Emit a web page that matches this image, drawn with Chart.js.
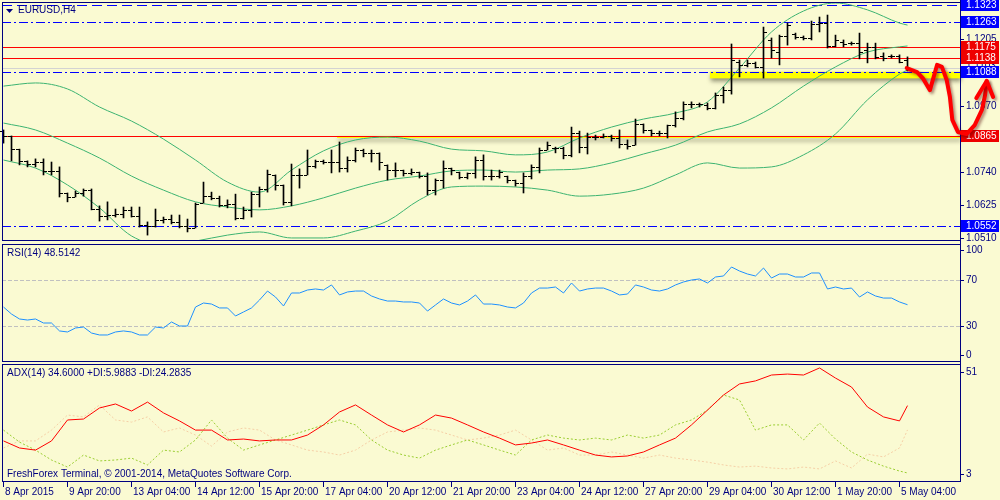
<!DOCTYPE html>
<html>
<head>
<meta charset="utf-8">
<title>EURUSD,H4</title>
<script src="https://cdn.jsdelivr.net/npm/chart.js@4.4.1/dist/chart.umd.min.js"></script>
<style>
html, body { margin: 0; padding: 0; background: #fafad2; }
#wrap { position: relative; width: 1000px; height: 500px; background: #fafad2; overflow: hidden; }
#wrap canvas { position: absolute; left: 0; }
</style>
</head>
<body>
<div id="wrap">
  <canvas id="priceChart" width="1000" height="243" style="top:0"></canvas>
  <canvas id="rsiChart" width="1000" height="121" style="top:243px"></canvas>
  <canvas id="adxChart" width="1000" height="137" style="top:363px"></canvas>
</div>
<script>
// ---- data (EURUSD H4, 8 Apr - 5 May 2015) ----
const barOpen = [1.0883,1.0866,1.0820,1.0779,1.0768,1.0775,1.0744,1.0744,1.0667,1.0653,
  1.0667,1.0677,1.0611,1.0587,1.0590,1.0594,1.0608,1.0587,1.0555,1.0552,
  1.0573,1.0576,1.0566,1.0552,1.0545,1.0632,1.0656,1.0650,1.0625,1.0629,
  1.0580,1.0608,1.0663,1.0681,1.0730,1.0695,1.0636,1.0730,1.0730,1.0761,
  1.0779,1.0775,1.0775,1.0754,1.0782,1.0817,1.0807,1.0807,1.0765,1.0747,
  1.0747,1.0737,1.0740,1.0726,1.0677,1.0712,1.0754,1.0740,1.0723,1.0737,
  1.0782,1.0726,1.0726,1.0726,1.0712,1.0702,1.0726,1.0758,1.0817,1.0824,
  1.0824,1.0800,1.0876,1.0827,1.0862,1.0862,1.0866,1.0859,1.0838,1.0834,
  1.0908,1.0887,1.0876,1.0876,1.0904,1.0929,1.0978,1.0978,1.0974,1.0964,
  1.1009,1.1026,1.1124,1.1114,1.1121,1.1107,1.1201,1.1159,1.1215,1.1222,
  1.1211,1.1208,1.1257,1.1260,1.1180,1.1194,1.1190,1.1190,1.1166,1.1177,
  1.1145,1.1145,1.1145,1.1131];
const barHigh = [1.0887,1.0866,1.0820,1.0779,1.0786,1.0786,1.0775,1.0758,1.0667,1.0674,
  1.0681,1.0681,1.0622,1.0636,1.0611,1.0618,1.0618,1.0618,1.0566,1.0611,
  1.0583,1.0590,1.0590,1.0576,1.0632,1.0705,1.0670,1.0656,1.0643,1.0663,
  1.0618,1.0670,1.0688,1.0747,1.0730,1.0695,1.0768,1.0751,1.0817,1.0782,
  1.0782,1.0817,1.0845,1.0793,1.0824,1.0820,1.0817,1.0807,1.0765,1.0772,
  1.0747,1.0751,1.0740,1.0737,1.0716,1.0779,1.0754,1.0740,1.0737,1.0793,
  1.0800,1.0747,1.0747,1.0726,1.0712,1.0737,1.0765,1.0824,1.0845,1.0827,
  1.0827,1.0897,1.0883,1.0876,1.0869,1.0873,1.0869,1.0887,1.0852,1.0925,
  1.0908,1.0887,1.0883,1.0904,1.0950,1.0985,1.0985,1.0981,1.0981,1.1016,
  1.1037,1.1187,1.1131,1.1131,1.1124,1.1246,1.1208,1.1218,1.1260,1.1225,
  1.1215,1.1267,1.1281,1.1288,1.1218,1.1201,1.1194,1.1225,1.1190,1.1190,
  1.1156,1.1149,1.1149,1.1142];
const barLow = [1.0841,1.0779,1.0765,1.0758,1.0758,1.0730,1.0730,1.0653,1.0636,1.0653,
  1.0656,1.0608,1.0569,1.0573,1.0583,1.0580,1.0583,1.0548,1.0520,1.0548,
  1.0562,1.0559,1.0545,1.0531,1.0545,1.0632,1.0643,1.0618,1.0615,1.0573,
  1.0576,1.0583,1.0618,1.0670,1.0677,1.0625,1.0622,1.0684,1.0730,1.0754,
  1.0768,1.0737,1.0740,1.0740,1.0775,1.0793,1.0775,1.0747,1.0712,1.0723,
  1.0726,1.0730,1.0719,1.0660,1.0660,1.0684,1.0730,1.0716,1.0716,1.0719,
  1.0712,1.0712,1.0719,1.0702,1.0691,1.0667,1.0716,1.0737,1.0817,1.0807,
  1.0786,1.0793,1.0807,1.0803,1.0852,1.0859,1.0848,1.0824,1.0820,1.0834,
  1.0876,1.0866,1.0866,1.0859,1.0897,1.0922,1.0964,1.0967,1.0957,1.0960,
  1.0981,1.1012,1.1072,1.1107,1.1103,1.1068,1.1138,1.1114,1.1183,1.1204,
  1.1201,1.1201,1.1229,1.1173,1.1177,1.1177,1.1183,1.1135,1.1121,1.1135,
  1.1128,1.1138,1.1121,1.1093];
const barClose = [1.0866,1.0820,1.0779,1.0768,1.0775,1.0744,1.0744,1.0667,1.0653,1.0667,
  1.0677,1.0611,1.0587,1.0590,1.0594,1.0608,1.0587,1.0555,1.0552,1.0573,
  1.0576,1.0566,1.0552,1.0545,1.0629,1.0656,1.0650,1.0625,1.0629,1.0580,
  1.0608,1.0663,1.0681,1.0733,1.0695,1.0636,1.0730,1.0730,1.0761,1.0779,
  1.0775,1.0775,1.0754,1.0782,1.0817,1.0807,1.0807,1.0775,1.0747,1.0747,
  1.0737,1.0740,1.0726,1.0677,1.0712,1.0754,1.0747,1.0723,1.0737,1.0782,
  1.0726,1.0726,1.0740,1.0712,1.0702,1.0726,1.0758,1.0817,1.0834,1.0824,
  1.0800,1.0876,1.0827,1.0862,1.0862,1.0866,1.0859,1.0838,1.0831,1.0908,
  1.0887,1.0876,1.0876,1.0904,1.0929,1.0978,1.0978,1.0978,1.0964,1.1009,
  1.1026,1.1131,1.1114,1.1121,1.1107,1.1229,1.1166,1.1215,1.1253,1.1211,
  1.1208,1.1257,1.1260,1.1180,1.1201,1.1187,1.1190,1.1159,1.1177,1.1142,
  1.1138,1.1145,1.1124,1.1103];

// Bollinger bands, read every 4th bar
const bandIdx = [0,4,8,12,16,20,24,28,32,36,40,44,48,52,56,60,64,68,72,76,80,84,88,92,96,100,104,108,112,113];
const bandUpper = [1.1040,1.1051,1.1030,1.0967,1.0918,1.0855,1.0782,1.0705,1.0670,1.0747,
  1.0814,1.0852,1.0862,1.0848,1.0820,1.0814,1.0800,1.0810,1.0859,1.0897,
  1.0925,1.0946,1.0985,1.1103,1.1229,1.1302,1.1330,1.1306,1.1260,1.1253];
const bandMiddle = [1.0911,1.0887,1.0841,1.0789,1.0726,1.0677,1.0636,1.0618,1.0608,1.0622,
  1.0650,1.0684,1.0712,1.0726,1.0744,1.0747,1.0740,1.0747,1.0751,1.0772,
  1.0803,1.0834,1.0880,1.0908,1.0964,1.1040,1.1107,1.1159,1.1177,1.1180];
const bandLower = [1.0782,1.0754,1.0695,1.0615,1.0517,1.0485,1.0499,1.0520,1.0531,1.0510,
  1.0510,1.0534,1.0569,1.0643,1.0688,1.0691,1.0688,1.0677,1.0656,1.0663,
  1.0684,1.0730,1.0772,1.0754,1.0758,1.0800,1.0873,1.0992,1.1082,1.1096];

const rsiValues = [46.5,40.4,36.1,35.2,36.1,32.6,32.6,25.7,24.8,28.3,
  29.1,23.9,22.2,22.2,24.8,25.7,24.8,22.2,22.2,29.1,
  28.3,33.5,30.0,30.0,46.5,50.0,49.1,45.7,45.7,38.7,
  42.2,45.7,52.6,60.4,55.2,47.4,58.7,58.7,61.3,62.2,
  61.3,65.7,57.0,59.6,60.4,60.4,56.1,53.5,51.7,51.7,
  50.9,50.9,50.0,43.0,48.3,53.5,50.0,48.3,51.7,57.0,
  49.1,49.1,48.3,46.5,45.7,50.0,58.7,63.0,63.0,63.9,
  58.7,67.4,60.4,62.2,63.0,63.0,60.4,57.0,57.8,65.7,
  63.9,61.3,60.4,62.2,65.7,68.3,70.0,70.9,67.4,72.6,
  73.5,81.3,77.8,75.2,73.5,80.4,71.7,75.2,75.2,72.6,
  72.6,76.1,76.1,62.2,63.9,62.2,63.0,55.2,59.6,56.1,
  54.3,54.3,50.9,48.5142];

// ADX(14), read every 2nd bar
const adxIdx = [0,2,4,6,8,10,12,14,16,18,20,22,24,26,28,30,32,34,36,38,40,42,44,46,48,50,52,54,56,58,
  60,62,64,66,68,70,72,74,76,78,80,82,84,86,88,90,92,94,96,98,100,102,104,106,108,110,112,113];
const adxMain = [19.6,16.6,15.7,19.6,28.5,28.9,33.6,35.3,32.3,36.1,
  31.5,28.1,24.2,24.2,20.0,20.4,19.6,20.0,20.0,22.1,
  26.4,31.9,34.9,30.6,26.4,23.4,26.4,30.6,29.3,26.4,
  23.4,20.8,17.9,18.7,20.0,17.9,15.7,13.6,12.8,13.2,
  14.9,17.9,20.8,26.4,32.7,39.1,43.8,45.1,47.6,48.0,
  47.6,50.6,46.3,42.5,34.0,29.8,28.1,34.6];
const adxPlusDi = [24.2,19.1,15.7,11.5,8.5,13.6,11.1,11.5,12.3,9.4,
  15.7,14.9,20.0,28.5,20.8,15.7,17.9,20.0,22.1,24.2,
  26.4,28.5,26.4,20.0,15.7,13.6,12.3,15.7,17.9,20.0,
  17.9,15.7,13.6,20.0,22.1,20.8,20.0,20.8,20.0,22.1,
  20.8,22.1,26.4,28.5,32.7,39.1,37.0,24.2,26.4,26.4,
  20.0,27.2,20.4,14.9,11.5,8.9,6.8,5.9883];
const adxMinusDi = [16.6,19.6,19.6,24.2,30.6,29.8,34.9,28.5,27.6,29.8,
  23.4,25.1,22.1,17.4,23.4,25.1,24.2,20.0,17.9,15.7,
  14.9,13.6,15.7,20.0,23.4,24.2,25.1,24.2,22.1,20.0,
  20.8,22.1,24.2,20.0,15.7,16.6,13.6,13.6,14.9,13.6,
  12.3,13.6,12.3,11.5,10.6,9.4,8.5,8.9,8.1,7.7,
  8.5,7.7,11.1,8.1,14.0,12.8,16.6,24.2835];

const timeLabelIdx = [0,8,16,24,32,40,48,56,64,72,80,88,96,104,112];
const timeLabels = ['8 Apr 2015','9 Apr 20:00','13 Apr 04:00','14 Apr 12:00','15 Apr 20:00',
  '17 Apr 04:00','20 Apr 12:00','21 Apr 20:00','23 Apr 04:00','24 Apr 12:00',
  '27 Apr 20:00','29 Apr 04:00','30 Apr 12:00','1 May 20:00','5 May 04:00'];

const priceTicks = [1.1205, 1.0970, 1.0740, 1.0625, 1.0510];
const blueDashLevels = [1.1323];
const blueDashDotLevels = [1.1263, 1.1088, 1.0552];
const redLevels = [1.1175, 1.1138, 1.0865];
const bidPrice = 1.1103;
const rsiLevels = [70, 30];
const rsiTicks = [100, 70, 30, 0];
const adxTicks = [51, 3];

// hand drawn marks on the chart (bar index, price)
const zoneFrom = [88.3, 41.7];
const zoneTop = [1.1090, 1.0866];
const zoneBottom = [1.1067, 1.0861];
const arrowIdx = [112.9,114.2,114.9,115.8,116.7,117.3,117.9,118.3,118.6,119.3,120.4,121.4,122.3,122.7,122.9];
const arrowPrice = [1.1103,1.1089,1.1068,1.1026,1.1114,1.1107,1.1061,1.1002,1.0922,1.0880,1.0873,1.0904,1.0957,1.1009,1.1058];
const arrowHeadIdx = [121.6, 122.9, 123.7];
const arrowHeadPrice = [1.0998, 1.1058, 1.1002];

// ---- drawing ----
const NAVY = '#000080';
const FONT = '10px "Liberation Sans", Arial, sans-serif';
const X_MIN = -0.1875, X_MAX = 119.5625;

function xScaleOpts() {
    return { type: 'linear', display: false, min: X_MIN, max: X_MAX, offset: false };
}

function drawFrame(chart) {
    const { ctx, chartArea: a } = chart;
    ctx.strokeStyle = NAVY;
    ctx.lineWidth = 1;
    ctx.strokeRect(a.left + 0.5, a.top + 0.5, a.right - a.left, a.bottom - a.top - 1);
}

function axisLabel(ctx, a, py, text) {
    ctx.strokeStyle = NAVY;
    ctx.beginPath();
    ctx.moveTo(a.right, Math.round(py) + 0.5);
    ctx.lineTo(a.right + 4, Math.round(py) + 0.5);
    ctx.stroke();
    ctx.fillStyle = NAVY;
    ctx.fillText(text, a.right + 6, py);
}

const pricePlugin = {
    id: 'pricePlugin',
    beforeDatasetsDraw(chart) {
        const { ctx, chartArea: a, scales: { x, y } } = chart;
        ctx.save();
        // highlighted zones with shadow
        for (let k = 0; k < zoneFrom.length; k++) {
            const x0 = x.getPixelForValue(zoneFrom[k]);
            const y0 = y.getPixelForValue(zoneTop[k]);
            const y1 = y.getPixelForValue(zoneBottom[k]);
            ctx.shadowColor = 'rgba(60,60,40,0.55)';
            ctx.shadowBlur = 4;
            ctx.shadowOffsetX = 1;
            ctx.shadowOffsetY = 3;
            ctx.fillStyle = '#ffff00';
            ctx.fillRect(x0, y0, a.right - x0, Math.max(2, y1 - y0));
        }
        ctx.shadowColor = 'transparent';
        // bid line
        ctx.strokeStyle = '#d3d3d3';
        ctx.lineWidth = 1;
        let py = Math.round(y.getPixelForValue(bidPrice)) + 0.5;
        ctx.beginPath(); ctx.moveTo(a.left, py); ctx.lineTo(a.right, py); ctx.stroke();
        // level lines
        ctx.strokeStyle = '#0000ff';
        ctx.setLineDash([10, 5]);
        blueDashLevels.forEach(v => {
            py = Math.round(y.getPixelForValue(v)) + 0.5;
            ctx.beginPath(); ctx.moveTo(a.left, py); ctx.lineTo(a.right, py); ctx.stroke();
        });
        ctx.setLineDash([9, 3, 2, 3]);
        blueDashDotLevels.forEach(v => {
            py = Math.round(y.getPixelForValue(v)) + 0.5;
            ctx.beginPath(); ctx.moveTo(a.left, py); ctx.lineTo(a.right, py); ctx.stroke();
        });
        ctx.setLineDash([]);
        ctx.strokeStyle = '#ff0000';
        redLevels.forEach(v => {
            py = Math.round(y.getPixelForValue(v)) + 0.5;
            ctx.beginPath(); ctx.moveTo(a.left, py); ctx.lineTo(a.right, py); ctx.stroke();
        });
        ctx.restore();
    },
    afterDatasetsDraw(chart) {
        // open / close ticks of the OHLC bars
        const { ctx, scales: { x, y } } = chart;
        ctx.save();
        ctx.fillStyle = '#000000';
        for (let i = 0; i < barOpen.length; i++) {
            const col = Math.floor(x.getPixelForValue(i));
            ctx.fillRect(col - 3, Math.round(y.getPixelForValue(barOpen[i])), 3, 1);
            ctx.fillRect(col + 1, Math.round(y.getPixelForValue(barClose[i])), 3, 1);
        }
        ctx.restore();
    },
    afterDraw(chart) {
        const { ctx, chartArea: a, scales: { x, y } } = chart;
        ctx.save();
        drawFrame(chart);
        ctx.beginPath();
        ctx.moveTo(a.right + 0.5, 0); ctx.lineTo(a.right + 0.5, chart.height);
        ctx.stroke();
        ctx.font = FONT;
        ctx.textBaseline = 'middle';
        // title
        ctx.fillStyle = NAVY;
        ctx.beginPath();
        ctx.moveTo(6, 9); ctx.lineTo(13, 9); ctx.lineTo(9.5, 13); ctx.closePath(); ctx.fill();
        ctx.fillText('EURUSD,H4', 18, 10);
        // price scale
        priceTicks.forEach(v => axisLabel(ctx, a, y.getPixelForValue(v), v.toFixed(4)));
        axisLabel(ctx, a, y.getPixelForValue(bidPrice) - 2, bidPrice.toFixed(4));
        const box = (v, color) => {
            const py = y.getPixelForValue(v);
            ctx.fillStyle = color;
            ctx.fillRect(a.right + 1, Math.round(py) - 6, 38, 12);
            ctx.fillStyle = '#ffffff';
            ctx.fillText(v.toFixed(4), a.right + 6, py);
        };
        blueDashLevels.concat(blueDashDotLevels).forEach(v => box(v, '#0000ff'));
        redLevels.forEach(v => box(v, '#ee0000'));
        // hand drawn red arrow
        ctx.shadowColor = 'rgba(80,0,0,0.45)';
        ctx.shadowBlur = 3;
        ctx.shadowOffsetX = 2;
        ctx.shadowOffsetY = 2;
        ctx.strokeStyle = '#ff0000';
        ctx.lineWidth = 4;
        ctx.lineJoin = 'round';
        ctx.lineCap = 'round';
        ctx.beginPath();
        arrowIdx.forEach((k, j) => {
            const px = x.getPixelForValue(k), py = y.getPixelForValue(arrowPrice[j]);
            if (j === 0) ctx.moveTo(px, py); else ctx.lineTo(px, py);
        });
        ctx.stroke();
        ctx.beginPath();
        arrowHeadIdx.forEach((k, j) => {
            const px = x.getPixelForValue(k), py = y.getPixelForValue(arrowHeadPrice[j]);
            if (j === 0) ctx.moveTo(px, py); else ctx.lineTo(px, py);
        });
        ctx.stroke();
        ctx.restore();
    }
};

const rsiPlugin = {
    id: 'rsiPlugin',
    beforeDatasetsDraw(chart) {
        const { ctx, chartArea: a, scales: { y } } = chart;
        ctx.save();
        ctx.strokeStyle = '#c0c0c0';
        ctx.setLineDash([4, 2]);
        rsiLevels.forEach(v => {
            const py = Math.round(y.getPixelForValue(v)) + 0.5;
            ctx.beginPath(); ctx.moveTo(a.left, py); ctx.lineTo(a.right, py); ctx.stroke();
        });
        ctx.restore();
    },
    afterDraw(chart) {
        const { ctx, chartArea: a, scales: { y } } = chart;
        ctx.save();
        drawFrame(chart);
        ctx.beginPath();
        ctx.moveTo(a.right + 0.5, 0); ctx.lineTo(a.right + 0.5, chart.height);
        ctx.stroke();
        ctx.font = FONT;
        ctx.textBaseline = 'middle';
        ctx.fillStyle = NAVY;
        ctx.fillText('RSI(14) ' + rsiValues[rsiValues.length - 1].toFixed(4), 7, a.top + 9);
        rsiTicks.forEach(v => {
            const py = Math.min(Math.max(y.getPixelForValue(v), a.top + 6), a.bottom - 7);
            axisLabel(ctx, a, py, String(v));
        });
        ctx.restore();
    }
};

const adxPlugin = {
    id: 'adxPlugin',
    afterDraw(chart) {
        const { ctx, chartArea: a, scales: { x, y } } = chart;
        ctx.save();
        drawFrame(chart);
        ctx.beginPath();
        ctx.moveTo(a.right + 0.5, 0); ctx.lineTo(a.right + 0.5, a.bottom);
        ctx.stroke();
        ctx.font = FONT;
        ctx.textBaseline = 'middle';
        ctx.fillStyle = NAVY;
        const n = adxMain.length - 1;
        ctx.fillText('ADX(14) ' + adxMain[n].toFixed(4) + ' +DI:' + adxPlusDi[n].toFixed(4) +
            ' -DI:' + adxMinusDi[n].toFixed(4), 7, a.top + 9);
        ctx.fillText('FreshForex Terminal, \u00a9 2001-2014, MetaQuotes Software Corp.', 7, a.bottom - 8);
        adxTicks.forEach(v => {
            const py = Math.min(Math.max(y.getPixelForValue(v), a.top + 8), a.bottom - 8);
            axisLabel(ctx, a, py, String(v));
        });
        // time axis
        timeLabelIdx.forEach((k, j) => {
            const px = Math.floor(x.getPixelForValue(k)) + 0.5;
            ctx.strokeStyle = NAVY;
            ctx.beginPath(); ctx.moveTo(px, a.bottom); ctx.lineTo(px, a.bottom + 5); ctx.stroke();
            ctx.fillStyle = NAVY;
            ctx.fillText(timeLabels[j], px + 1.5, a.bottom + 10);
        });
        ctx.restore();
    }
};

const baseOptions = (yMin, yMax, padding) => ({
    responsive: false,
    maintainAspectRatio: false,
    animation: false,
    devicePixelRatio: 1,
    layout: { padding: padding },
    plugins: { legend: { display: false }, tooltip: { enabled: false } },
    scales: {
        x: xScaleOpts(),
        y: { type: 'linear', display: false, min: yMin, max: yMax }
    }
});

const lineSet = (idx, values, color, extra) => Object.assign({
    type: 'line',
    data: idx.map((k, j) => ({ x: k, y: values[j] })),
    borderColor: color,
    borderWidth: 1,
    pointRadius: 0,
    fill: false
}, extra || {});

const barIdx = barOpen.map((v, i) => i);

new Chart(document.getElementById('priceChart'), {
    type: 'line',
    data: {
        datasets: [
            {
                type: 'bar',
                data: barIdx.map(i => ({ x: i, y: [barLow[i], barHigh[i]] })),
                backgroundColor: '#000000',
                borderWidth: 0,
                barThickness: 1,
                grouped: false,
                order: 0
            },
            lineSet(bandIdx, bandUpper, '#3cb371', { cubicInterpolationMode: 'monotone', order: 2 }),
            lineSet(bandIdx, bandMiddle, '#3cb371', { cubicInterpolationMode: 'monotone', order: 2 }),
            lineSet(bandIdx, bandLower, '#3cb371', { cubicInterpolationMode: 'monotone', order: 2 })
        ]
    },
    options: baseOptions(1.04994, 1.13335, { left: 2, right: 40, top: 2, bottom: 2 }),
    plugins: [pricePlugin]
});

new Chart(document.getElementById('rsiChart'), {
    type: 'line',
    data: { datasets: [lineSet(barIdx, rsiValues, '#1e90ff')] },
    options: baseOptions(-1.3, 101.3, { left: 2, right: 40, top: 1, bottom: 2 }),
    plugins: [rsiPlugin]
});

new Chart(document.getElementById('adxChart'), {
    type: 'line',
    data: {
        datasets: [
            lineSet(adxIdx, adxMain, '#ff0000', { order: 0 }),
            lineSet(adxIdx, adxPlusDi, '#9acd32', { borderDash: [2, 2], order: 1 }),
            lineSet(adxIdx, adxMinusDi, '#f5cfa6', { borderDash: [2, 2], order: 2 })
        ]
    },
    options: baseOptions(2.15, 52.28, { left: 2, right: 40, top: 1, bottom: 18 }),
    plugins: [adxPlugin]
});
</script>
</body>
</html>
